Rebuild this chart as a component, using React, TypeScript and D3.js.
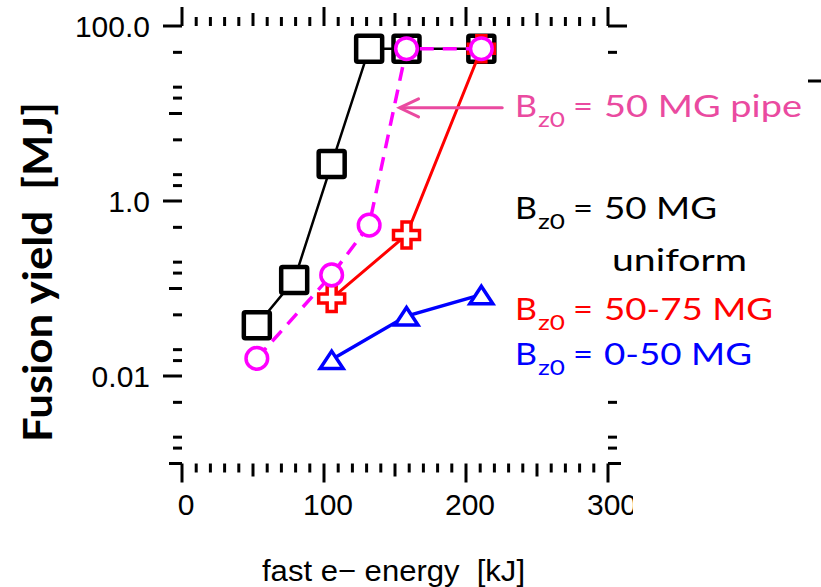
import React from "react";
import * as d3 from "d3";

// Fast-electron energy (kJ) vs fusion yield (MJ) for four initial field configurations
const uniformEnergy = [52.7, 79.0, 105.4, 131.8, 158.1, 210.8];
const uniformYield = [0.038, 0.125, 2.65, 55, 55, 55];

const pipeEnergy = [52.7, 105.4, 131.8, 158.1, 210.8];
const pipeYield = [0.0159, 0.143, 0.53, 55, 55];

const rampEnergy = [105.4, 158.1, 210.8];
const rampYield = [0.077, 0.41, 55];

const lowEnergy = [105.4, 158.1, 210.8];
const lowYield = [0.0154, 0.0485, 0.085];

// axis ticks
const xMajorTicks = [0, 100, 200, 300];
const xTickLabels = ["0", "100", "200", "300"];
const yLabelValues = [100, 1, 0.01];
const yTickLabels = ["100.0", "1.0", "0.01"];
const yDecadeTicks = [10, 0.1, 0.001];
const yMinorMantissas = [1.5, 2, 5];
const yMinorDecades = [0.001, 0.01, 0.1, 1, 10];

// arrow pointing at the pipe curve
const arrowTipKJ = 153.2;
const arrowTailKJ = 225.5;
const arrowYieldMJ = 11.6;

const W = 821;
const H = 587;
const PINK = "#ea4aa0";
const MAGENTA = "#ff00ff";

const x = d3.scaleLinear().domain([0, 300]).range([182, 608]);
const y = d3.scaleLog().domain([0.001, 100]).range([463.5, 26]);

const xMinor = d3.range(0, 301, 10).filter((v) => v % 50 !== 0);
const xMid = [50, 150, 250];
const yMinor = yMinorDecades.flatMap((d) => yMinorMantissas.map((m) => m * d));

const lineGen = (xs: number[], ys: number[]) =>
  d3
    .line<number>()
    .x((_, i) => x(xs[i]))
    .y((_, i) => y(ys[i]))(xs) || "";

const crossPath =
  "M-4.5,-13L4.5,-13L4.5,-4.5L13,-4.5L13,4.5L4.5,4.5L4.5,13L-4.5,13L-4.5,4.5L-13,4.5L-13,-4.5L-4.5,-4.5Z";
const triPath = "M0,-8.5L11.5,9L-11.5,9Z";

const SANS = "'Liberation Sans', Arial, sans-serif";
const LEG = "Lato, 'Open Sans', sans-serif";

function LegendLine({
  yBase,
  color,
  rest,
  restLen,
}: {
  yBase: number;
  color: string;
  rest: string;
  restLen: number;
}) {
  return (
    <g fill={color} fontFamily={LEG} style={{ whiteSpace: "pre" }}>
      <text x={515} y={yBase} fontSize={31} textLength={22} lengthAdjust="spacingAndGlyphs">
        B
      </text>
      <text x={538} y={yBase + 10} fontSize={22} textLength={27} lengthAdjust="spacingAndGlyphs">
        z0
      </text>
      <text x={573} y={yBase} fontSize={31} textLength={20} lengthAdjust="spacingAndGlyphs">
        =
      </text>
      <text x={604} y={yBase} fontSize={31} textLength={restLen} lengthAdjust="spacingAndGlyphs">
        {rest}
      </text>
    </g>
  );
}

export default function App() {
  const tick = (k: string, x1: number, y1: number, x2: number, y2: number) => (
    <line key={k} x1={x1} y1={y1} x2={x2} y2={y2} stroke="#000" strokeWidth={3} />
  );
  const xL = x(0);
  const xR = x(300);
  const yT = y(100);
  const yB = y(0.001);

  const ticks: React.ReactNode[] = [];
  const xLen = (v: number) => (xMajorTicks.includes(v) ? 19 : xMid.includes(v) ? 13 : 9);
  [...xMajorTicks, ...xMid, ...xMinor].forEach((v) => {
    const px = x(v);
    const len = xLen(v);
    ticks.push(tick(`xb${v}`, px, yB, px, yB + len));
    ticks.push(tick(`xt${v}`, px, yT, px, yT - len));
  });
  const yLen = (v: number) =>
    yLabelValues.includes(v) ? 19 : yDecadeTicks.includes(v) ? 13 : 9;
  [...yLabelValues, ...yDecadeTicks, ...yMinor].forEach((v) => {
    const py = y(v);
    const len = yLen(v);
    ticks.push(tick(`yl${v}`, xL, py, xL - len, py));
    ticks.push(tick(`yr${v}`, xR, py, xR + len, py));
  });

  const ax = x(arrowTipKJ);
  const ay = y(arrowYieldMJ);
  const bx = x(arrowTailKJ);

  return (
    <svg
      width={W}
      height={H}
      viewBox={`0 0 ${W} ${H}`}
      style={{ position: "absolute", left: 0, top: 0, background: "#fff" }}
    >
      <defs>
        <clipPath id="tickLabelClip">
          <rect x={0} y={0} width={633} height={H} />
        </clipPath>
      </defs>
      <rect width={W} height={H} fill="#fff" />

      {ticks}

      {/* tick labels */}
      <g fontFamily={SANS} fontSize={30} fill="#000">
        {yLabelValues.map((v, i) => (
          <text key={v} x={150} y={y(v) + 11} textAnchor="end">
            {yTickLabels[i]}
          </text>
        ))}
        <g clipPath="url(#tickLabelClip)">
          {xMajorTicks.map((v, i) => (
            <text key={v} x={x(v) + 4} y={515} textAnchor="middle">
              {xTickLabels[i]}
            </text>
          ))}
        </g>
      </g>

      {/* axis titles */}
      <text
        transform="translate(52,272) rotate(-90)"
        textAnchor="middle"
        fontFamily={LEG}
        fontWeight="bold"
        fontSize={41}
        textLength={340}
        lengthAdjust="spacingAndGlyphs"
        style={{ whiteSpace: "pre" }}
      >
        Fusion yield  [MJ]
      </text>
      <text
        x={262}
        y={581}
        fontFamily={SANS}
        fontSize={30}
        textLength={263}
        lengthAdjust="spacingAndGlyphs"
        style={{ whiteSpace: "pre" }}
      >
        fast e− energy  [kJ]
      </text>

      {/* uniform 50 MG */}
      <path d={lineGen(uniformEnergy, uniformYield)} fill="none" stroke="#000" strokeWidth={2.5} />
      {uniformEnergy.map((e, i) => (
        <rect
          key={`u${i}`}
          x={x(e) - 13}
          y={y(uniformYield[i]) - 13}
          width={26}
          height={26}
          rx={1.5}
          fill="#fff"
          stroke="#000"
          strokeWidth={4.5}
        />
      ))}

      {/* 50-75 MG */}
      <path d={lineGen(rampEnergy, rampYield)} fill="none" stroke="#ff0000" strokeWidth={3} />
      {rampEnergy.map((e, i) => (
        <path
          key={`r${i}`}
          d={crossPath}
          transform={`translate(${x(e)},${y(rampYield[i])})`}
          fill="#fff"
          stroke="#ff0000"
          strokeWidth={3.5}
        />
      ))}

      {/* 0-50 MG */}
      <path d={lineGen(lowEnergy, lowYield)} fill="none" stroke="#0000ff" strokeWidth={3.5} />
      {lowEnergy.map((e, i) => (
        <path
          key={`b${i}`}
          d={triPath}
          transform={`translate(${x(e)},${y(lowYield[i])})`}
          fill="#fff"
          stroke="#0000ff"
          strokeWidth={3.5}
        />
      ))}

      {/* 50 MG pipe */}
      <path
        d={lineGen(pipeEnergy, pipeYield)}
        fill="none"
        stroke={MAGENTA}
        strokeWidth={3.5}
        strokeDasharray="14,9"
      />
      {pipeEnergy.map((e, i) => (
        <circle
          key={`p${i}`}
          cx={x(e)}
          cy={y(pipeYield[i])}
          r={10.8}
          fill="#fff"
          stroke={MAGENTA}
          strokeWidth={3.5}
        />
      ))}

      {/* opaque backing of the annotation block, hides the right-hand ticks behind it */}
      <rect x={510} y={84} width={296} height={302} fill="#fff" />

      {/* arrow */}
      <g stroke={PINK} strokeWidth={3} fill="none" strokeLinecap="round">
        <line x1={bx} y1={ay} x2={ax + 1} y2={ay} />
        <polyline points={`${ax + 19},${ay - 9} ${ax},${ay} ${ax + 19},${ay + 9}`} />
      </g>

      {/* labels */}
      <LegendLine yBase={117} color={PINK} rest="50 MG pipe" restLen={198} />
      <LegendLine yBase={219} color="#000" rest="50 MG" restLen={113} />
      <text
        x={612}
        y={271}
        fontFamily={LEG}
        fontSize={31}
        textLength={135}
        lengthAdjust="spacingAndGlyphs"
      >
        uniform
      </text>
      <LegendLine yBase={320} color="#ff0000" rest="50-75 MG" restLen={169} />
      <LegendLine yBase={365} color="#0000ff" rest="0-50 MG" restLen={148} />

      <line x1={808} y1={81} x2={821} y2={81} stroke="#000" strokeWidth={3} />
    </svg>
  );
}
